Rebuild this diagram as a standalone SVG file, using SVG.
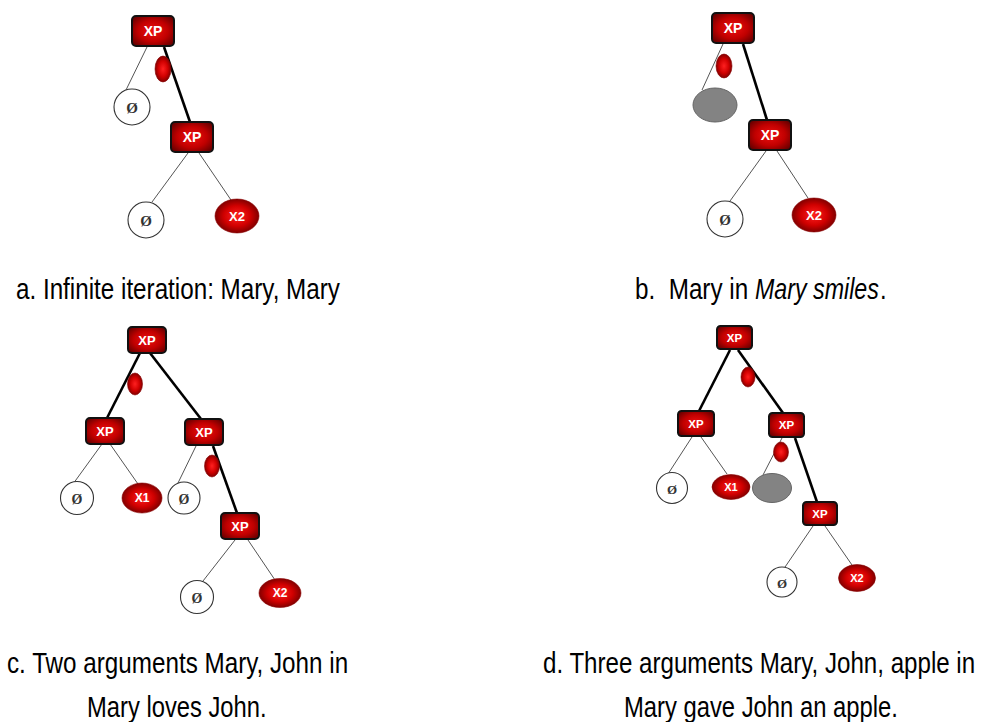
<svg xmlns="http://www.w3.org/2000/svg" width="981" height="722" viewBox="0 0 981 722">
<defs>
<radialGradient id="red" cx="50%" cy="50%" r="55%">
<stop offset="0" stop-color="#ff2020"/>
<stop offset="0.55" stop-color="#d00000"/>
<stop offset="1" stop-color="#6e0000"/>
</radialGradient>
<radialGradient id="boxred" cx="50%" cy="50%" r="60%">
<stop offset="0" stop-color="#f01010"/>
<stop offset="0.6" stop-color="#c00000"/>
<stop offset="1" stop-color="#700000"/>
</radialGradient>
</defs>
<style>
.thin{stroke:#555;stroke-width:1;fill:none}
.thick{stroke:#000;stroke-width:2.6;fill:none}
.box{fill:url(#boxred);stroke:#111;stroke-width:2}
.xl{fill:#fff;font-family:"Liberation Sans",Arial,sans-serif;font-weight:bold;text-anchor:middle;dominant-baseline:central}
.red{fill:url(#red);stroke:#8a0000;stroke-width:0.6}
.empty{fill:#fff;stroke:#333;stroke-width:1.1}
.phi{fill:#333;font-family:"Liberation Serif",serif;font-weight:bold;text-anchor:middle;dominant-baseline:central}
.gray{fill:#838383;stroke:#666;stroke-width:1}
.cap{fill:#000;font-family:"Liberation Sans",Arial,sans-serif;font-size:29px}
</style>
<g id="connectors">
<line class="thin" x1="147" y1="47" x2="126" y2="90"/>
<line class="thick" x1="164" y1="47" x2="190" y2="122"/>
<line class="thin" x1="188" y1="153" x2="152" y2="202"/>
<line class="thin" x1="199" y1="153" x2="231" y2="200"/>
<line class="thin" x1="723" y1="44" x2="702" y2="90"/>
<line class="thick" x1="743" y1="44" x2="767" y2="120"/>
<line class="thin" x1="766" y1="151" x2="730" y2="201"/>
<line class="thin" x1="777" y1="151" x2="808" y2="198"/>
<line class="thick" x1="140" y1="353" x2="107" y2="418"/>
<line class="thick" x1="150" y1="353" x2="201" y2="419"/>
<line class="thin" x1="102" y1="444" x2="73" y2="484"/>
<line class="thin" x1="110" y1="444" x2="138" y2="484"/>
<line class="thin" x1="196" y1="446" x2="178" y2="483"/>
<line class="thick" x1="213" y1="446" x2="237" y2="513"/>
<line class="thin" x1="235" y1="540" x2="203" y2="581"/>
<line class="thin" x1="248" y1="540" x2="275" y2="580"/>
<line class="thick" x1="730" y1="350" x2="699" y2="411"/>
<line class="thick" x1="738" y1="350" x2="783" y2="413"/>
<line class="thin" x1="692" y1="437" x2="668" y2="474"/>
<line class="thin" x1="701" y1="437" x2="727" y2="474"/>
<line class="thin" x1="782" y1="438" x2="763" y2="475"/>
<line class="thick" x1="795" y1="438" x2="817" y2="502"/>
<line class="thin" x1="813" y1="526" x2="783" y2="570"/>
<line class="thin" x1="825" y1="526" x2="852" y2="565"/>
</g>
<g id="a-xp1"><rect class="box" x="132" y="16" width="42" height="30" rx="4"/><text class="xl" x="153" y="31" font-size="14">XP</text></g>
<g id="a-dot"><ellipse class="red" cx="163" cy="69" rx="8" ry="13"/></g>
<g id="a-phi1"><circle class="empty" cx="132" cy="107" r="18"/><text class="phi" x="132" y="108" font-size="15">Ø</text></g>
<g id="a-xp2"><rect class="box" x="171" y="122" width="42" height="30" rx="4"/><text class="xl" x="192" y="137" font-size="14">XP</text></g>
<g id="a-phi2"><circle class="empty" cx="146" cy="220" r="18"/><text class="phi" x="146" y="221" font-size="15">Ø</text></g>
<g id="a-x2"><ellipse class="red" cx="237" cy="216" rx="22" ry="17"/><text class="xl" x="237" y="216" font-size="13">X2</text></g>
<g id="b-xp1"><rect class="box" x="712" y="13" width="42" height="30" rx="4"/><text class="xl" x="733" y="28" font-size="14">XP</text></g>
<g id="b-dot"><ellipse class="red" cx="724" cy="66" rx="8" ry="12"/></g>
<g id="b-gray"><ellipse class="gray" cx="715" cy="105" rx="22" ry="17"/></g>
<g id="b-xp2"><rect class="box" x="749" y="120" width="42" height="30" rx="4"/><text class="xl" x="770" y="135" font-size="14">XP</text></g>
<g id="b-phi"><circle class="empty" cx="725" cy="219" r="18"/><text class="phi" x="725" y="220" font-size="15">Ø</text></g>
<g id="b-x2"><ellipse class="red" cx="814" cy="215" rx="22" ry="17"/><text class="xl" x="814" y="215" font-size="13">X2</text></g>
<g id="c-xp1"><rect class="box" x="128" y="327" width="38" height="26" rx="4"/><text class="xl" x="147" y="340" font-size="13">XP</text></g>
<g id="c-dot1"><ellipse class="red" cx="135" cy="384" rx="7.5" ry="11"/></g>
<g id="c-xpl"><rect class="box" x="86" y="418" width="38" height="26" rx="4"/><text class="xl" x="105" y="431" font-size="13">XP</text></g>
<g id="c-xpr"><rect class="box" x="185" y="419" width="38" height="26" rx="4"/><text class="xl" x="204" y="432" font-size="13">XP</text></g>
<g id="c-phi1"><circle class="empty" cx="77" cy="498" r="16.5"/><text class="phi" x="77" y="499" font-size="14">Ø</text></g>
<g id="c-x1"><ellipse class="red" cx="142" cy="498" rx="20" ry="15"/><text class="xl" x="142" y="498" font-size="12">X1</text></g>
<g id="c-phi2"><circle class="empty" cx="184" cy="498" r="16"/><text class="phi" x="184" y="499" font-size="14">Ø</text></g>
<g id="c-dot2"><ellipse class="red" cx="212" cy="466" rx="7.5" ry="11"/></g>
<g id="c-xp3"><rect class="box" x="221" y="513" width="38" height="26" rx="4"/><text class="xl" x="240" y="526" font-size="13">XP</text></g>
<g id="c-phi3"><circle class="empty" cx="197" cy="597" r="16.5"/><text class="phi" x="197" y="598" font-size="14">Ø</text></g>
<g id="c-x2"><ellipse class="red" cx="280" cy="593" rx="21" ry="14.5"/><text class="xl" x="280" y="593" font-size="12">X2</text></g>
<g id="d-xp1"><rect class="box" x="717" y="326" width="35" height="23" rx="3.5"/><text class="xl" x="734.5" y="337.5" font-size="11.5">XP</text></g>
<g id="d-dot1"><ellipse class="red" cx="748" cy="377" rx="7" ry="10"/></g>
<g id="d-xpl"><rect class="box" x="678" y="411" width="36" height="25" rx="3.5"/><text class="xl" x="696" y="423.5" font-size="11.5">XP</text></g>
<g id="d-xpr"><rect class="box" x="769" y="413" width="35" height="24" rx="3.5"/><text class="xl" x="786.5" y="425" font-size="11.5">XP</text></g>
<g id="d-phi1"><circle class="empty" cx="672" cy="488" r="15.5"/><text class="phi" x="672" y="489" font-size="13">Ø</text></g>
<g id="d-x1"><ellipse class="red" cx="731" cy="487" rx="19" ry="12.5"/><text class="xl" x="731" y="487" font-size="11">X1</text></g>
<g id="d-dot2"><ellipse class="red" cx="781" cy="452" rx="7.5" ry="10"/></g>
<g id="d-gray"><ellipse class="gray" cx="772" cy="488" rx="19.5" ry="14.5"/></g>
<g id="d-xp3"><rect class="box" x="803" y="502" width="34" height="23" rx="3.5"/><text class="xl" x="820" y="513.5" font-size="11.5">XP</text></g>
<g id="d-phi2"><circle class="empty" cx="782" cy="582" r="15"/><text class="phi" x="782" y="583" font-size="13">Ø</text></g>
<g id="d-x2"><ellipse class="red" cx="857" cy="578" rx="18.5" ry="13.5"/><text class="xl" x="857" y="578" font-size="11">X2</text></g>
<g id="captions">
<text class="cap" transform="translate(16 299) scale(0.82 1)" textLength="395" lengthAdjust="spacingAndGlyphs">a. Infinite iteration: Mary, Mary</text>
<text class="cap" transform="translate(635 299) scale(0.82 1)" textLength="138" lengthAdjust="spacingAndGlyphs" xml:space="preserve">b.  Mary in</text>
<text class="cap" transform="translate(755 299) scale(0.82 1)" textLength="151" lengthAdjust="spacingAndGlyphs" font-style="italic">Mary smiles</text>
<text class="cap" transform="translate(880 299) scale(0.82 1)">.</text>
<text class="cap" transform="translate(7 673) scale(0.82 1)" textLength="416" lengthAdjust="spacingAndGlyphs">c. Two arguments Mary, John in</text>
<text class="cap" transform="translate(87 717) scale(0.82 1)" textLength="219" lengthAdjust="spacingAndGlyphs">Mary loves John.</text>
<text class="cap" transform="translate(543 673) scale(0.82 1)" textLength="527" lengthAdjust="spacingAndGlyphs">d. Three arguments Mary, John, apple in</text>
<text class="cap" transform="translate(624 717) scale(0.82 1)" textLength="334" lengthAdjust="spacingAndGlyphs">Mary gave John an apple.</text>
</g>
</svg>
